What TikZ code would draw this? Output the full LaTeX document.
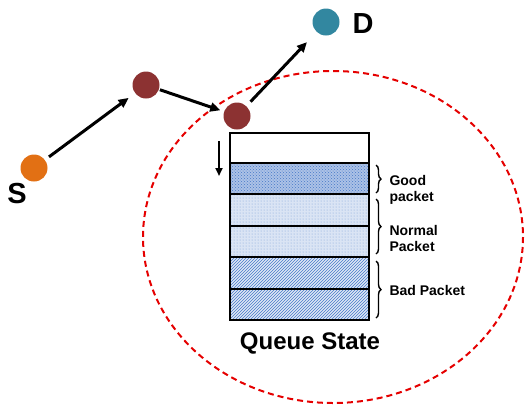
\documentclass[tikz,border=0pt]{standalone}
\usepackage{fontspec}
\setmainfont{Liberation Sans}
\usetikzlibrary{patterns,decorations.pathreplacing,arrows.meta}
\definecolor{sorange}{RGB}{226,112,20}
\definecolor{hopred}{RGB}{140,50,50}
\definecolor{dteal}{RGB}{50,135,160}
\definecolor{qblue}{RGB}{70,120,200}
\begin{document}
\begin{tikzpicture}[x=1pt,y=-1pt,
  dot/.style={circle,minimum size=27pt,inner sep=0pt},
  hop/.style={-{Triangle[length=10pt,width=9pt]},line width=3pt},
  row/.style={draw=black,line width=2pt},
  lbl/.style={font=\bfseries\fontsize{14}{15}\selectfont,align=left,anchor=west},
  br/.style={decorate,decoration={brace,amplitude=5pt,aspect=0.5},line width=1.4pt}]
\useasboundingbox (0,0) rectangle (527,408);
% red dashed range
\draw[red!90!black,line width=2pt,dash pattern=on 6pt off 4pt] (333,237) ellipse [x radius=190,y radius=166];
% nodes
\node[dot,fill=sorange] (s) at (34,168) {};
\node[dot,fill=hopred] (n1) at (146,85) {};
\node[dot,fill=hopred] (n2) at (237,116) {};
\node[dot,fill=dteal] (d) at (326,22) {};
\node[font=\bfseries\fontsize{29}{30}\selectfont] (sl) at (17,194) {S};
\node[font=\bfseries\fontsize{29}{30}\selectfont] (dl) at (363,24) {D};
\draw[hop,shorten <=5pt,shorten >=8pt] (s) -- (n1);
\draw[hop,shorten <=1pt,shorten >=4pt] (n1) -- (n2);
\draw[hop,shorten <=6pt,shorten >=14pt] (n2) -- (d);
% queue
\fill[white] (230,133) rectangle (369,163);
\fill[qblue!45] (230,163) rectangle (369,194);
\fill[pattern=crosshatch dots,pattern color=qblue] (230,163) rectangle (369,194);
\fill[qblue!20] (230,194) rectangle (369,257);
\fill[pattern=dots,pattern color=qblue!70] (230,194) rectangle (369,257);
\fill[qblue!18] (230,257) rectangle (369,320);
\fill[pattern=north east lines,pattern color=qblue] (230,257) rectangle (369,320);
\draw[row] (230,133) rectangle (369,320);
\foreach \y in {163,194,226,257,289} \draw[line width=1.6pt] (230,\y) -- (369,\y);
\coordinate (ta) at (219,141);
\coordinate (tb) at (219,176);
\draw[-{Triangle[length=8pt,width=7pt]},line width=2pt] (ta) -- (tb);
% braces
\draw[br] (376,165) -- (376,193);
\draw[br] (376,199) -- (376,254);
\draw[br] (376,261) -- (376,318);
\node[lbl] (good) at (386,190) {Good\\[1pt]packet};
\node[lbl] (norm) at (386,238) {Normal\\[1pt]Packet};
\node[lbl] (bad) at (386,290) {Bad Packet};
\node[font=\bfseries\fontsize{24}{26}\selectfont] (qs) at (310,343) {Queue State};
\end{tikzpicture}
\end{document}
